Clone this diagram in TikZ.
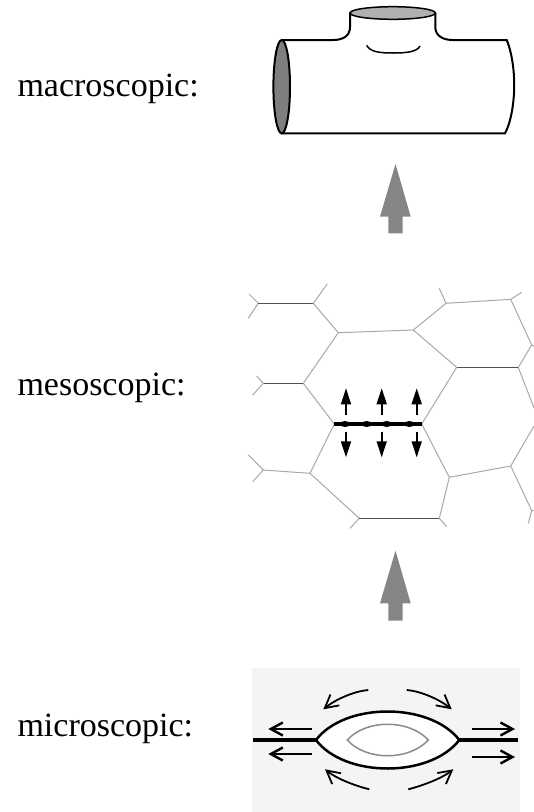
\documentclass[tikz,border=0pt]{standalone}
\usepackage{fontspec}
\setmainfont{Liberation Serif}
\usetikzlibrary{arrows.meta}
\definecolor{tubegray}{HTML}{B0B0B0}
\definecolor{endgray}{HTML}{7F7F7F}
\definecolor{bigarrow}{HTML}{858585}
\definecolor{hexlight}{HTML}{A8A8A8}
\definecolor{hexdark}{HTML}{505050}
\definecolor{microbg}{HTML}{F4F4F4}
\definecolor{innerlens}{HTML}{8A8A8A}
\tikzset{
  lbl/.style={anchor=base west, inner sep=0pt, font=\fontsize{34}{40}\selectfont},
  pipe/.style={line width=2pt, black},
  uparrow/.style={fill=bigarrow, draw=none},
  hexl/.style={hexlight, line width=1pt},
  hexd/.style={hexdark, line width=1.1pt},
  tensarrow/.style={line width=1.6pt, -{Triangle[length=16pt,width=10pt]}},
  flowarrow/.style={line width=2.4pt, -{Straight Barb[length=12pt,width=13pt]}},
  curlarrow/.style={line width=1.8pt, -{Straight Barb[length=13pt,width=14pt]}},
}
\begin{document}
\begin{tikzpicture}[x=1pt,y=-1pt]
\useasboundingbox (0,0) rectangle (534,812);
% labels
\node[lbl] (macro) at (17.3,96.7) {macroscopic:};
\node[lbl] (meso) at (17.3,395) {mesoscopic:};
\node[lbl] (micro) at (17.3,736.7) {microscopic:};

% ---------- macroscopic pipe ----------
\draw[pipe, line cap=round] (350,13) -- (350,27) .. controls (350,36) and (343,40) .. (333,40) -- (281.7,40);
\draw[pipe, line cap=round] (435.3,13) -- (435.3,27) .. controls (435.3,36) and (443,40) .. (453,40) -- (506.7,40)
   .. controls (513,55) and (515,78) .. (514,93) .. controls (513,110) and (510,124) .. (505,133.3) -- (281.7,133.3);
\draw[line width=1.5pt, fill=tubegray] (392.7,13) ellipse [x radius=42.7, y radius=6.3];
\draw[pipe, fill=endgray] (281.7,86.7) ellipse [x radius=8.3, y radius=46.7];
\draw[line width=1.5pt] (366.7,45.3) .. controls (370,52) and (380,53) .. (393,53) .. controls (406,53) and (417,52) .. (420,46);

% ---------- big gray arrows ----------
\fill[uparrow] (388.3,233.3) -- (388.3,216.7) -- (380,216.7) -- (395.5,164) -- (410.7,216.7) -- (402.7,216.7) -- (402.7,233.3) -- cycle;
\fill[uparrow] (388.3,620.7) -- (388.3,603.3) -- (380,603.3) -- (395.5,550.7) -- (410.7,603.3) -- (402.7,603.3) -- (402.7,620.7) -- cycle;

% ---------- mesoscopic hexagons ----------
\coordinate (A) at (258.3,303.3); \coordinate (a1) at (249,294); \coordinate (a2) at (248.3,318.3);
\coordinate (B) at (313.3,303.3); \coordinate (b1) at (327.3,284);
\coordinate (C) at (338.3,332.7); \coordinate (D) at (413.3,330);
\coordinate (E) at (446,303.3); \coordinate (e1) at (439.3,288.3);
\coordinate (F) at (510.7,299.3); \coordinate (f1) at (521.7,292.3);
\coordinate (S) at (531.7,345); \coordinate (s1) at (534,346);
\coordinate (G) at (518.3,367.3); \coordinate (g1) at (534,408);
\coordinate (H) at (456.7,367.3);
\coordinate (I) at (421.7,424); \coordinate (J) at (334.3,424);
\coordinate (K) at (303.3,383.3); \coordinate (L) at (263.3,383.3);
\coordinate (l1) at (256.7,376); \coordinate (l2) at (252.7,395);
\coordinate (M) at (310,473.3); \coordinate (N) at (263.3,470);
\coordinate (n1) at (248.3,455); \coordinate (n2) at (252.7,481.7);
\coordinate (O) at (359.3,518.3); \coordinate (P) at (439.3,518.3);
\coordinate (o1) at (350,528.3); \coordinate (p1) at (446.7,526.7);
\coordinate (Q) at (449.3,477.3); \coordinate (R) at (510.7,466); \coordinate (r1) at (534,426);
\coordinate (T) at (531.7,510.7); \coordinate (t1) at (534,510.7); \coordinate (t2) at (528.3,523.3);

\draw[hexl] (a1) -- (A) -- (a2);
\draw[hexd] (A) -- (B);
\draw[hexl] (b1) -- (B) -- (C) -- (D) -- (E) -- (e1);
\draw[hexl] (E) -- (F) -- (f1);
\draw[hexl] (F) -- (S) -- (s1);
\draw[hexl] (S) -- (G) -- (g1);
\draw[hexd] (H) -- (G);
\draw[hexl] (D) -- (H) -- (I);
\draw[hexl] (C) -- (K);
\draw[hexd] (K) -- (L);
\draw[hexl] (l1) -- (L) -- (l2);
\draw[hexl] (K) -- (J) -- (M);
\draw[hexl] (M) -- (N);
\draw[hexl] (n1) -- (N) -- (n2);
\draw[hexl] (M) -- (O) -- (o1);
\draw[hexd] (O) -- (P);
\draw[hexl] (P) -- (p1);
\draw[hexl] (I) -- (Q) -- (P);
\draw[hexl] (Q) -- (R) -- (r1);
\draw[hexl] (R) -- (T) -- (t1);
\draw[hexl] (T) -- (t2);
% central boundary with tension arrows
\draw[line width=3.5pt, black] (J) -- (I);
\foreach \x in {345,366.7,386.7,409.3} \fill (\x,424) ellipse [x radius=5, y radius=3];
\foreach \x/\n in {346/1,381.7/2,416.7/3} {
  \coordinate (u\n) at (\x,415); \coordinate (ut\n) at (\x,388.3);
  \coordinate (d\n) at (\x,431.7); \coordinate (dt\n) at (\x,457.3);
  \draw[tensarrow] (u\n) -- (ut\n);
  \draw[tensarrow] (d\n) -- (dt\n);
}

% ---------- microscopic ----------
\fill[microbg] (251.7,668.3) rectangle (520,812);
\coordinate (lv) at (316,740); \coordinate (rv) at (459.3,740);
\coordinate (le) at (252.7,740); \coordinate (re) at (517.7,740);
\draw[line width=3.5pt] (le) -- (lv);
\draw[line width=3.5pt] (rv) -- (re);
\draw[line width=2.5pt, fill=white] (lv) .. controls (345,702) and (430,702) .. (rv) .. controls (430,778) and (345,778) .. (lv) -- cycle;
\draw[innerlens, line width=1.5pt] (347.3,740) .. controls (366,719) and (409,719) .. (428.3,740) .. controls (409,761) and (366,761) .. (347.3,740) -- cycle;
% straight flow arrows
\coordinate (fl1) at (311.7,729); \coordinate (fl1t) at (268.3,729);
\coordinate (fl2) at (311.7,754); \coordinate (fl2t) at (268.3,754);
\coordinate (fr1) at (471.7,729); \coordinate (fr1t) at (515,729);
\coordinate (fr2) at (471.7,757); \coordinate (fr2t) at (515,757);
\draw[flowarrow] (fl1) -- (fl1t);
\draw[flowarrow] (fl2) -- (fl2t);
\draw[flowarrow] (fr1) -- (fr1t);
\draw[flowarrow] (fr2) -- (fr2t);
% curved flow arrows
\coordinate (c1) at (368.3,690); \coordinate (c1t) at (323.3,709.3);
\coordinate (c2) at (406.7,690); \coordinate (c2t) at (451.7,709.3);
\coordinate (c3) at (369.3,789.3); \coordinate (c3t) at (325,769.3);
\coordinate (c4) at (408.3,789.3); \coordinate (c4t) at (453.3,769.3);
\draw[curlarrow] (c1) .. controls (355,691) and (336,699) .. (c1t);
\draw[curlarrow] (c2) .. controls (420,691) and (439,699) .. (c2t);
\draw[curlarrow] (c3) .. controls (356,786) and (337,779) .. (c3t);
\draw[curlarrow] (c4) .. controls (421,786) and (441,779) .. (c4t);
\end{tikzpicture}
\end{document}
